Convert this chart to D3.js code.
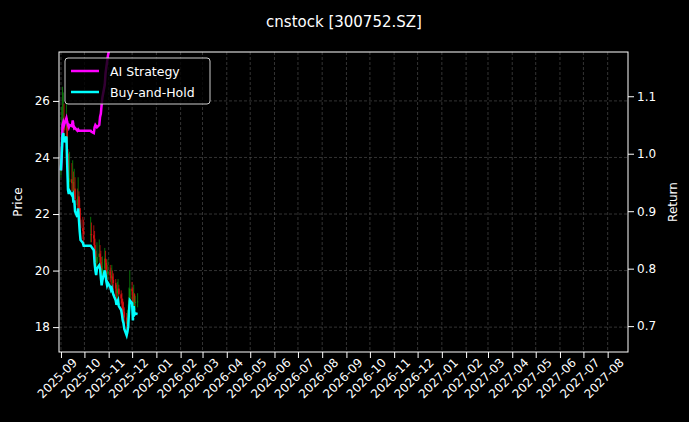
<!DOCTYPE html>
<meta charset="utf-8">
<style>
body { margin: 0; background: #000; font-family: "DejaVu Sans", sans-serif; }
svg { display: block; }
.axis text { fill: #fff; font-size: 12px; font-family: "DejaVu Sans", sans-serif; }
.axis path, .axis line { stroke: #fff; }
.grid line { stroke: #555; stroke-dasharray: 3,2; stroke-width: 0.6; }
</style>
<body>
<svg width="689" height="422"></svg>
<script src="https://cdn.jsdelivr.net/npm/d3@7"></script>
<script>
var dates = ["2025-09-01","2025-09-02","2025-09-03","2025-09-04","2025-09-05","2025-09-08","2025-09-09","2025-09-10","2025-09-11","2025-09-12",
  "2025-09-15","2025-09-16","2025-09-17","2025-09-18","2025-09-19","2025-09-22","2025-09-23","2025-09-24","2025-09-25","2025-09-26",
  "2025-09-29","2025-09-30","2025-10-09","2025-10-10","2025-10-13","2025-10-14","2025-10-15","2025-10-16","2025-10-17","2025-10-20",
  "2025-10-21","2025-10-22","2025-10-23","2025-10-24","2025-10-27","2025-10-28","2025-10-29","2025-10-30","2025-10-31","2025-11-03",
  "2025-11-04","2025-11-05","2025-11-06","2025-11-07","2025-11-10","2025-11-11","2025-11-12","2025-11-13","2025-11-14","2025-11-17",
  "2025-11-18","2025-11-19","2025-11-20","2025-11-21","2025-11-24","2025-11-25","2025-11-26","2025-11-27","2025-11-28","2025-12-01",
  "2025-12-02","2025-12-03","2025-12-04","2025-12-05","2025-12-08"];

var close = [23.96,24.55,25.15,25.28,24.96,25.16,24.14,23.27,23.13,23.23,
  23.09,23.13,22.82,22.90,22.52,22.31,22.62,22.21,21.80,21.50,
  21.40,21.29,21.29,21.25,21.13,20.68,20.42,20.26,20.48,20.60,
  20.48,20.17,19.89,20.07,20.42,20.28,20.03,19.89,19.97,19.83,
  19.73,19.79,19.67,19.56,19.36,19.20,19.30,19.36,19.16,19.01,
  18.85,18.65,18.55,18.34,18.12,18.24,18.45,18.95,19.36,19.26,
  18.65,19.16,18.85,18.89,18.90];

var open = [23.50,23.96,24.55,25.15,25.28,24.96,25.16,24.14,23.27,23.13,
  23.23,23.09,23.13,22.82,22.90,22.52,22.31,22.62,22.21,21.80,
  21.50,21.40,21.29,21.29,21.25,21.13,20.68,20.42,20.26,20.48,
  20.60,20.48,20.17,19.89,20.07,20.42,20.28,20.03,19.89,19.97,
  19.83,19.73,19.79,19.67,19.56,19.36,19.20,19.30,19.36,19.16,
  19.01,18.85,18.65,18.55,18.34,18.12,18.24,18.45,18.95,19.36,
  19.26,18.65,19.16,18.85,18.89];

var high = [24.4,25.8,26.5,26.3,25.9,26.0,25.4,24.3,23.9,24.2,
  23.8,23.9,23.5,23.6,23.3,22.9,23.3,22.8,22.5,22.2,
  21.9,21.8,21.9,21.7,21.6,21.4,20.9,20.7,21.0,21.1,
  20.9,20.7,20.3,20.5,20.8,20.7,20.4,20.2,20.4,20.2,
  20.1,20.2,20.0,19.9,19.7,19.5,19.6,19.7,19.5,19.3,
  19.2,19.0,18.9,18.7,18.5,18.6,18.8,19.4,20.0,19.6,
  19.4,19.5,19.2,19.1,19.2];

var low = [23.3,23.8,24.3,24.8,24.6,24.7,23.9,23.0,22.8,22.9,
  22.8,22.8,22.6,22.6,22.2,22.0,22.2,21.9,21.5,21.2,
  21.1,21.0,21.0,21.0,20.9,20.4,20.1,20.0,20.1,20.3,
  20.2,19.9,19.6,19.7,19.9,20.0,19.8,19.6,19.7,19.6,
  19.5,19.5,19.4,19.3,19.1,18.9,19.0,19.1,18.9,18.8,
  18.6,18.4,18.3,18.1,17.9,18.0,18.2,18.4,18.8,19.0,
  18.4,18.6,18.6,18.6,18.7];

var bhReturn = [0.971,1.000,1.030,1.036,1.020,1.030,0.980,0.937,0.930,0.935,
  0.928,0.930,0.915,0.919,0.900,0.890,0.905,0.885,0.865,0.850,
  0.845,0.840,0.840,0.838,0.832,0.810,0.797,0.789,0.800,0.806,
  0.800,0.785,0.771,0.780,0.797,0.790,0.778,0.771,0.775,0.768,
  0.763,0.766,0.760,0.755,0.745,0.737,0.742,0.745,0.735,0.728,
  0.720,0.710,0.705,0.695,0.684,0.690,0.700,0.725,0.745,0.740,
  0.710,0.735,0.720,0.722,0.721];

var aiReturn = [0.971,1.000,1.050,1.055,1.050,1.062,1.055,1.050,1.046,1.050,
  1.048,1.058,1.050,1.044,1.045,1.040,1.042,1.040,1.040,1.040,
  1.040,1.040,1.040,1.038,1.036,1.046,1.050,1.048,1.046,1.050,
  1.064,1.070,1.085,1.098,1.120,1.140,1.150,1.160,1.170,1.190];

var priceTicks = [18, 20, 22, 24, 26];
var returnTicks = [0.7, 0.8, 0.9, 1.0, 1.1];

var parse = d3.timeParse("%Y-%m-%d");
var days = dates.map(parse);

var svg = d3.select("svg");
var L = 59, R = 628, T = 52, B = 352;

var x = d3.scaleTime().domain([new Date(2025, 7, 29, 12), new Date(2027, 7, 27)]).range([L, R]);
var yP = d3.scaleLinear().domain([17.12, 27.73]).range([B, T]);
var yR = d3.scaleLinear().domain([0.655, 1.177]).range([B, T]);

var months = d3.timeMonth.range(new Date(2025, 8, 1), new Date(2027, 8, 1));

svg.append("text").attr("x", 344).attr("y", 27).attr("text-anchor", "middle")
  .attr("fill", "#fff").style("font-size", "15px").text("cnstock [300752.SZ]");

var grid = svg.append("g").attr("class", "grid");
grid.selectAll(".gx").data(months).enter().append("line")
  .attr("x1", d => x(d)).attr("x2", d => x(d)).attr("y1", T).attr("y2", B);
grid.selectAll(".gy").data(priceTicks).enter().append("line")
  .attr("x1", L).attr("x2", R).attr("y1", d => yP(d)).attr("y2", d => yP(d));

svg.append("clipPath").attr("id", "clip").append("rect")
  .attr("x", L).attr("y", T).attr("width", R - L).attr("height", B - T);
var plot = svg.append("g").attr("clip-path", "url(#clip)");

var candles = plot.selectAll(".c").data(days).enter().append("g");
candles.append("line")
  .attr("x1", (d, i) => x(d)).attr("x2", (d, i) => x(d))
  .attr("y1", (d, i) => yP(high[i])).attr("y2", (d, i) => yP(low[i]))
  .attr("stroke", (d, i) => close[i] >= open[i] ? "#0a8a0a" : "#d01010").attr("stroke-width", 0.8);
candles.append("rect")
  .attr("x", d => x(d) - 0.8).attr("width", 1.6)
  .attr("y", (d, i) => yP(Math.max(open[i], close[i])))
  .attr("height", (d, i) => Math.max(0.5, Math.abs(yP(open[i]) - yP(close[i]))))
  .attr("fill", (d, i) => close[i] >= open[i] ? "#0a8a0a" : "#d01010");

var line = d3.line().x(d => x(d[0])).y(d => yR(d[1]));
plot.append("path").datum(days.slice(0, aiReturn.length).map((d, i) => [d, aiReturn[i]]))
  .attr("d", line).attr("fill", "none").attr("stroke", "#ff00ff").attr("stroke-width", 2.5);
plot.append("path").datum(days.map((d, i) => [d, bhReturn[i]]))
  .attr("d", line).attr("fill", "none").attr("stroke", "#00ffff").attr("stroke-width", 2.5);

svg.append("rect").attr("x", L).attr("y", T).attr("width", R - L).attr("height", B - T)
  .attr("fill", "none").attr("stroke", "#fff");

var xa = svg.append("g").attr("class", "axis").attr("transform", "translate(0," + B + ")")
  .call(d3.axisBottom(x).tickValues(months).tickFormat(d3.timeFormat("%Y-%m")).tickSizeOuter(0));
xa.select(".domain").remove();
xa.selectAll("text").attr("text-anchor", "end").attr("dx", "0.3em").attr("dy", "0.9em")
  .attr("transform", "rotate(-45)");

var ya = svg.append("g").attr("class", "axis").attr("transform", "translate(" + L + ",0)")
  .call(d3.axisLeft(yP).tickValues(priceTicks).tickSizeOuter(0));
ya.select(".domain").remove();
var yr = svg.append("g").attr("class", "axis").attr("transform", "translate(" + R + ",0)")
  .call(d3.axisRight(yR).tickValues(returnTicks).tickFormat(d3.format(".1f")).tickSizeOuter(0));
yr.select(".domain").remove();

svg.append("text").attr("transform", "translate(22," + (T + B) / 2 + ") rotate(-90)")
  .attr("text-anchor", "middle").attr("fill", "#fff").style("font-size", "12px").text("Price");
svg.append("text").attr("transform", "translate(677," + (T + B) / 2 + ") rotate(-90)")
  .attr("text-anchor", "middle").attr("fill", "#fff").style("font-size", "12px").text("Return");

var lg = svg.append("g").attr("transform", "translate(65,58)");
lg.append("rect").attr("width", 145).attr("height", 46).attr("rx", 3)
  .attr("fill", "#000").attr("fill-opacity", 0.8).attr("stroke", "#ccc");
[["AI Strategy", "#ff00ff"], ["Buy-and-Hold", "#00ffff"]].forEach(function(s, i) {
  var yy = 13 + i * 21;
  lg.append("line").attr("x1", 6).attr("x2", 34).attr("y1", yy).attr("y2", yy)
    .attr("stroke", s[1]).attr("stroke-width", 2.5);
  lg.append("text").attr("x", 45).attr("y", yy + 4.5).attr("fill", "#fff")
    .style("font-size", "12.5px").text(s[0]);
});
</script>
</body>
